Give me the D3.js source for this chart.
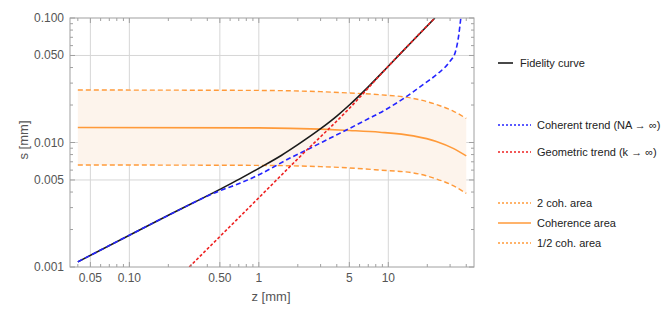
<!DOCTYPE html>
<html>
<head>
<meta charset="utf-8">
<script src="https://cdn.jsdelivr.net/npm/d3@7"></script>
<style>
  body { margin: 0; background: #fff; }
  text { font-family: "Liberation Sans", Arial, sans-serif; }
</style>
</head>
<body>
<script>
// values
const fidelityZ = [0.04, 0.1, 0.2, 0.5, 0.713, 1, 1.5, 2, 3, 4, 5, 7, 10, 15, 22.9];
const fidelityS = [0.0011, 0.0018, 0.0026, 0.0042, 0.0051, 0.0062, 0.0079, 0.0096, 0.0129, 0.0163, 0.0200, 0.0280, 0.0410, 0.0635, 0.1];

const coherentZ = [0.04, 0.1, 0.2, 0.5, 0.713, 1, 1.74, 2.33, 3.53, 5.04, 7, 9.4, 13.4, 19.1, 24.3, 29.8, 33.0, 35.0, 36.3];
const coherentS = [0.0011, 0.0018, 0.0026, 0.0041, 0.0047, 0.0055, 0.0075, 0.0087, 0.0108, 0.0130, 0.0155, 0.0182, 0.0229, 0.0298, 0.0360, 0.0446, 0.0536, 0.0730, 0.1];

const geometricZ = [0.29, 1, 2, 5, 10, 22.9];
const geometricS = [0.001, 0.0036, 0.0074, 0.0188, 0.041, 0.1];

const areaZ = [0.04, 1, 3, 5, 8.6, 15.6, 23.5, 31.7, 40];
const areaS = [0.0132, 0.0131, 0.0128, 0.0125, 0.0121, 0.0113, 0.0102, 0.00897, 0.0078];
const area2S = [0.0264, 0.0262, 0.0256, 0.0250, 0.0242, 0.0226, 0.0202, 0.0179, 0.0156];
const areaHalfS = [0.0066, 0.00655, 0.0064, 0.00625, 0.0060, 0.0057, 0.0051, 0.0045, 0.0039];

const xMajor = [0.05, 0.1, 0.5, 1, 5, 10];
const xMajorLabels = ["0.05", "0.10", "0.50", "1", "5", "10"];
const xMinor = [0.04, 0.06, 0.07, 0.08, 0.09, 0.2, 0.3, 0.4, 0.6, 0.7, 0.8, 0.9, 2, 3, 4, 6, 7, 8, 9, 20, 30, 40];
const yMajor = [0.001, 0.005, 0.01, 0.05, 0.1];
const yMajorLabels = ["0.001", "0.005", "0.010", "0.050", "0.100"];
const yMinor = [0.002, 0.003, 0.004, 0.006, 0.007, 0.008, 0.009, 0.02, 0.03, 0.04, 0.06, 0.07, 0.08, 0.09];

(function () {
  const W = 663, H = 316;
  const pLeft = 70, pRight = 474, pTop = 18, pBottom = 267;

  const svg = d3.select('body').append('svg')
    .attr('width', W)
    .attr('height', H);

  const x = d3.scaleLog().domain([0.0348, 45.9]).range([pLeft, pRight]);
  const y = d3.scaleLog().domain([0.001, 0.1]).range([pBottom, pTop]);

  svg.append('clipPath').attr('id', 'plotClip')
    .append('rect')
    .attr('x', pLeft).attr('y', pTop)
    .attr('width', pRight - pLeft).attr('height', pBottom - pTop);

  // grid lines
  svg.append('g')
    .selectAll('line')
    .data(xMajor)
    .enter().append('line')
    .attr('x1', d => x(d)).attr('x2', d => x(d))
    .attr('y1', pTop).attr('y2', pBottom)
    .attr('stroke', '#d6d6d6').attr('stroke-width', 1);

  svg.append('g')
    .selectAll('line')
    .data(yMajor.slice(1, 4))
    .enter().append('line')
    .attr('x1', pLeft).attr('x2', pRight)
    .attr('y1', d => y(d)).attr('y2', d => y(d))
    .attr('stroke', '#d6d6d6').attr('stroke-width', 1);

  // coherence band
  const plot = svg.append('g').attr('clip-path', 'url(#plotClip)');
  const bandData = areaZ.map((z, i) => ({ z: z, hi: area2S[i], lo: areaHalfS[i] }));

  plot.append('path')
    .datum(bandData)
    .attr('fill', '#fdf4ec')
    .attr('d', d3.area()
      .x(d => x(d.z))
      .y0(d => y(d.lo))
      .y1(d => y(d.hi))
      .curve(d3.curveMonotoneX));

  function drawCurve(zs, ss, color, dash, width) {
    let pts = zs.map((z, i) => [z, ss[i]]);
    plot.append('path')
      .datum(pts)
      .attr('fill', 'none')
      .attr('stroke', color)
      .attr('stroke-width', width)
      .attr('stroke-dasharray', dash)
      .attr('d', d3.line()
        .x(d => x(d[0]))
        .y(d => y(d[1]))
        .curve(d3.curveMonotoneX));
  }

  const orange = '#ff9a3a';
  drawCurve(areaZ, area2S, orange, '5,3', 1.4);
  drawCurve(areaZ, areaHalfS, orange, '5,3', 1.4);
  drawCurve(areaZ, areaS, orange, null, 1.6);
  drawCurve(fidelityZ, fidelityS, '#1a1a1a', null, 1.6);
  drawCurve(coherentZ, coherentS, '#2424ff', '5,3', 1.6);
  drawCurve(geometricZ, geometricS, '#ee2222', '3,2', 1.6);

  // frame
  svg.append('rect')
    .attr('x', pLeft).attr('y', pTop)
    .attr('width', pRight - pLeft).attr('height', pBottom - pTop)
    .attr('fill', 'none')
    .attr('stroke', '#a0a0a0')
    .attr('stroke-width', 1);

  // frame ticks (pointing inward, on all four sides)
  const ticks = svg.append('g').attr('stroke', '#a0a0a0').attr('stroke-width', 1);
  function xTicks(vals, len) {
    vals.forEach(v => {
      ticks.append('line').attr('x1', x(v)).attr('x2', x(v)).attr('y1', pBottom).attr('y2', pBottom - len);
      ticks.append('line').attr('x1', x(v)).attr('x2', x(v)).attr('y1', pTop).attr('y2', pTop + len);
    });
  }
  function yTicks(vals, len) {
    vals.forEach(v => {
      ticks.append('line').attr('y1', y(v)).attr('y2', y(v)).attr('x1', pLeft).attr('x2', pLeft + len);
      ticks.append('line').attr('y1', y(v)).attr('y2', y(v)).attr('x1', pRight).attr('x2', pRight - len);
    });
  }
  xTicks(xMajor, 5);
  xTicks(xMinor, 3);
  yTicks(yMajor, 5);
  yTicks(yMinor, 3);

  // tick labels
  svg.append('g')
    .selectAll('text')
    .data(xMajor)
    .enter().append('text')
    .attr('x', d => x(d))
    .attr('y', 282)
    .attr('text-anchor', 'middle')
    .style('font-size', '12px')
    .attr('fill', '#555')
    .text((d, i) => xMajorLabels[i]);

  svg.append('g')
    .selectAll('text')
    .data(yMajor)
    .enter().append('text')
    .attr('x', 64)
    .attr('y', d => y(d) + 4)
    .attr('text-anchor', 'end')
    .style('font-size', '12px')
    .attr('fill', '#555')
    .text((d, i) => yMajorLabels[i]);

  // axis titles
  svg.append('text')
    .attr('x', 271)
    .attr('y', 301)
    .attr('text-anchor', 'middle')
    .style('font-size', '13px')
    .attr('fill', '#555')
    .text('z [mm]');

  svg.append('text')
    .attr('transform', 'translate(28, 140)rotate(-90)')
    .attr('text-anchor', 'middle')
    .style('font-size', '13px')
    .attr('fill', '#555')
    .text('s [mm]');

  // legend
  const legendItems = [
    { label: 'Fidelity curve', color: '#1a1a1a', dash: null, y: 63, x1: 498, x2: 513, tx: 520 },
    { label: 'Coherent trend (NA \u2192 \u221e)', color: '#2424ff', dash: '2,2', y: 125, x1: 498, x2: 531, tx: 537 },
    { label: 'Geometric trend (k \u2192 \u221e)', color: '#ee2222', dash: '2,2', y: 152, x1: 498, x2: 531, tx: 537 },
    { label: '2 coh. area', color: orange, dash: '2,2', y: 203, x1: 498, x2: 531, tx: 537 },
    { label: 'Coherence area', color: orange, dash: null, y: 223, x1: 498, x2: 531, tx: 537 },
    { label: '1/2 coh. area', color: orange, dash: '2,2', y: 243, x1: 498, x2: 531, tx: 537 }
  ];

  const legend = svg.append('g');
  legendItems.forEach(d => {
    legend.append('line')
      .attr('x1', d.x1).attr('x2', d.x2)
      .attr('y1', d.y).attr('y2', d.y)
      .attr('stroke', d.color)
      .attr('stroke-width', 1.6)
      .attr('stroke-dasharray', d.dash);
    legend.append('text')
      .attr('x', d.tx)
      .attr('y', d.y + 4)
      .style('font-size', '11px')
      .attr('fill', '#222')
      .text(d.label);
  });
})();
</script>
</body>
</html>
